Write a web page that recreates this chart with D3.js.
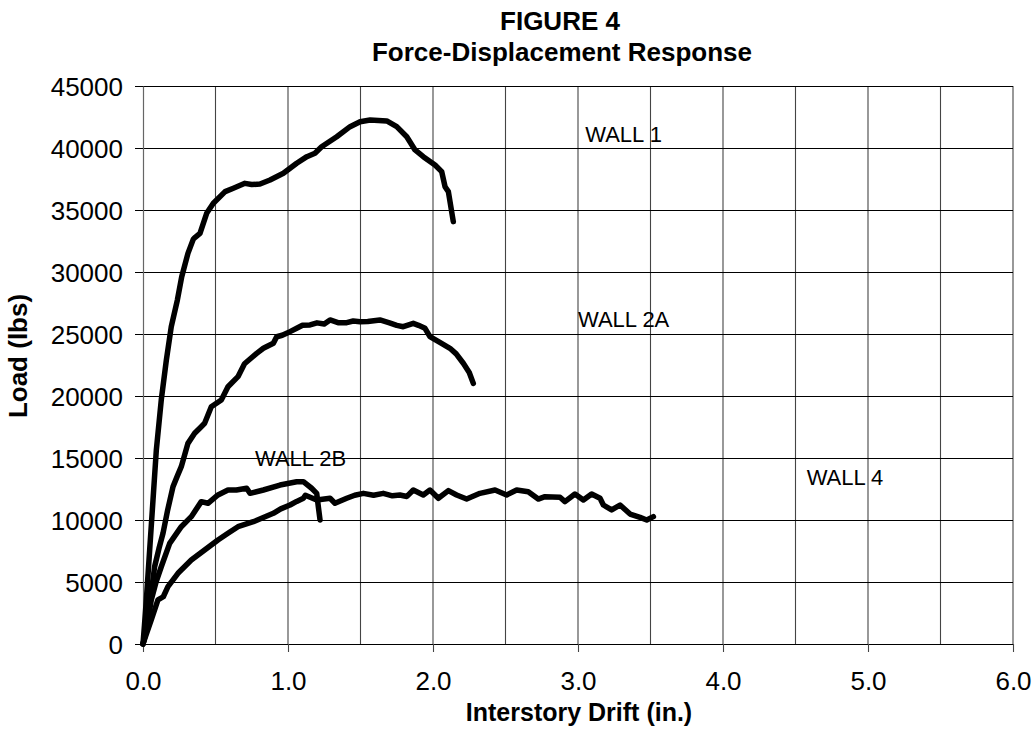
<!DOCTYPE html>
<html>
<head>
<meta charset="utf-8">
<script src="https://cdn.jsdelivr.net/npm/d3@7"></script>
<style>
  html, body { margin: 0; padding: 0; background: #fff; }
  svg { display: block; }
  text { font-family: "Liberation Sans", Arial, sans-serif; fill: #000; }
</style>
</head>
<body>
<svg id="chart" width="1036" height="729"></svg>
<script>
// ---- Data ----
const titleLines = ["FIGURE 4", "Force-Displacement Response"];
const xAxisTitle = "Interstory Drift (in.)";
const yAxisTitle = "Load (lbs)";
const xTickValues = [0, 1, 2, 3, 4, 5, 6];
const xGridValues = [0.5, 1, 1.5, 2, 2.5, 3, 3.5, 4, 4.5, 5, 5.5, 6];
const yTickValues = [0, 5000, 10000, 15000, 20000, 25000, 30000, 35000, 40000, 45000];

const seriesNames = ["WALL 1", "WALL 2A", "WALL 2B", "WALL 4"];

const wall1Drift = [0, 0.01, 0.023, 0.046, 0.069, 0.092, 0.126, 0.161, 0.195, 0.237, 0.267, 0.31, 0.347, 0.36, 0.393, 0.439, 0.485, 0.566, 0.623, 0.703, 0.75, 0.807, 0.876, 0.968, 1.06, 1.13, 1.186, 1.232, 1.336, 1.428, 1.497, 1.566, 1.681, 1.75, 1.819, 1.876, 1.933, 2.014, 2.06, 2.083, 2.106, 2.14];
const wall1Load  = [0, 1500, 3550, 7580, 11610, 15650, 19680, 22900, 25590, 27740, 29620, 31500, 32650, 32800, 33120, 34730, 35540, 36480, 36750, 37150, 37050, 37100, 37420, 37960, 38770, 39300, 39570, 40100, 40910, 41720, 42120, 42260, 42180, 41720, 40910, 39840, 39300, 38630, 38090, 36880, 36480, 34060];

const wall2aDrift = [0, 0.015, 0.034, 0.05, 0.08, 0.11, 0.138, 0.17, 0.207, 0.235, 0.264, 0.31, 0.356, 0.40, 0.425, 0.471, 0.54, 0.586, 0.655, 0.70, 0.784, 0.83, 0.899, 0.922, 0.96, 1.014, 1.06, 1.10, 1.152, 1.2, 1.25, 1.29, 1.35, 1.405, 1.45, 1.497, 1.55, 1.634, 1.70, 1.75, 1.795, 1.864, 1.90, 1.945, 1.979, 2.05, 2.117, 2.16, 2.209, 2.25, 2.278];
const wall2aLoad  = [0, 800, 1940, 3500, 6230, 7700, 8930, 10800, 12690, 13500, 14300, 16180, 16990, 17500, 17800, 19140, 19680, 20750, 21560, 22600, 23440, 23850, 24250, 24780, 24900, 25190, 25460, 25700, 25730, 25900, 25800, 26130, 25900, 25910, 26050, 25990, 26000, 26130, 25900, 25700, 25590, 25860, 25700, 25460, 24780, 24300, 23850, 23400, 22640, 21900, 21020];

const wall2bDrift = [0, 0.02, 0.057, 0.09, 0.126, 0.184, 0.264, 0.333, 0.402, 0.448, 0.517, 0.586, 0.644, 0.715, 0.738, 0.83, 0.945, 1.06, 1.106, 1.163, 1.198, 1.21, 1.221];
const wall2bLoad  = [0, 900, 3550, 5000, 6230, 8120, 9460, 10270, 11480, 11350, 12020, 12420, 12420, 12560, 12150, 12420, 12820, 13090, 13090, 12560, 12150, 11000, 10000];

const wall4Drift = [0, 0.02, 0.057, 0.103, 0.14, 0.172, 0.241, 0.333, 0.425, 0.517, 0.586, 0.655, 0.761, 0.83, 0.899, 0.95, 1.014, 1.06, 1.106, 1.12, 1.198, 1.29, 1.324, 1.405, 1.46, 1.52, 1.59, 1.657, 1.72, 1.772, 1.82, 1.864, 1.933, 1.979, 2.037, 2.106, 2.163, 2.232, 2.324, 2.428, 2.508, 2.577, 2.657, 2.726, 2.772, 2.876, 2.91, 2.979, 3.037, 3.094, 3.152, 3.175, 3.232, 3.29, 3.359, 3.428, 3.474, 3.52];
const wall4Load  = [0, 700, 1940, 3550, 3810, 4620, 5700, 6770, 7580, 8390, 8930, 9460, 9860, 10200, 10540, 10900, 11210, 11500, 11750, 12000, 11610, 11750, 11350, 11750, 12000, 12150, 12000, 12150, 11950, 12020, 11900, 12420, 12020, 12420, 11750, 12370, 12020, 11690, 12150, 12420, 12020, 12420, 12280, 11690, 11880, 11830, 11480, 12100, 11610, 12100, 11750, 11210, 10810, 11210, 10480, 10210, 10000, 10270];

// label anchor values (data coordinates)
const labelDrift = [3.05, 3.0, 0.772, 4.577];
const labelLoad  = [40480, 25540, 14355, 12820];

// ---- Build ----
const series = [
  wall1Drift.map((d, i) => [d, wall1Load[i]]),
  wall2aDrift.map((d, i) => [d, wall2aLoad[i]]),
  wall2bDrift.map((d, i) => [d, wall2bLoad[i]]),
  wall4Drift.map((d, i) => [d, wall4Load[i]])
];

const svg = d3.select("#chart");
const x = d3.scaleLinear().domain([0, 6]).range([143, 1013]);
const y = d3.scaleLinear().domain([0, 45000]).range([644, 86]);

// Vertical gridlines
svg.append("g").selectAll("line").data(xGridValues).join("line")
  .attr("x1", d => x(d)).attr("x2", d => x(d))
  .attr("y1", y(45000)).attr("y2", y(0))
  .attr("stroke", "#444").attr("stroke-width", 1.1);

// Horizontal gridlines
svg.append("g").selectAll("line").data(yTickValues.filter(v => v > 0)).join("line")
  .attr("x1", x(0)).attr("x2", x(6))
  .attr("y1", d => y(d)).attr("y2", d => y(d))
  .attr("stroke", "#000").attr("stroke-width", 1)
  .attr("shape-rendering", "crispEdges");

// Y axis
const yAxis = svg.append("g")
  .attr("transform", `translate(${x(0)},0)`)
  .call(d3.axisLeft(y).tickValues(yTickValues).tickSize(8).tickPadding(12).tickFormat(d => String(d)).tickSizeOuter(0));
yAxis.select(".domain").attr("stroke", "#666").attr("stroke-width", 1.2);
yAxis.selectAll(".tick line").attr("stroke", "#000").attr("shape-rendering", "crispEdges");
yAxis.selectAll(".tick text").attr("font-size", 26).attr("font-family", "Liberation Sans, Arial, sans-serif").attr("dy", "0.35em");

// X axis
const xAxis = svg.append("g")
  .attr("transform", `translate(0,${y(0)})`)
  .call(d3.axisBottom(x).tickValues(xTickValues).tickSize(8).tickPadding(20).tickFormat(d3.format(".1f")).tickSizeOuter(0));
xAxis.select(".domain").attr("stroke", "#000").attr("shape-rendering", "crispEdges");
xAxis.selectAll(".tick line").attr("stroke", "#444").attr("stroke-width", 1.1);
xAxis.selectAll(".tick text").attr("font-size", 26).attr("font-family", "Liberation Sans, Arial, sans-serif");

// Curves
const line = d3.line().x(d => x(d[0])).y(d => y(d[1]));
svg.append("g").selectAll("path").data(series).join("path")
  .attr("d", line)
  .attr("fill", "none")
  .attr("stroke", "#000")
  .attr("stroke-width", 5.5)
  .attr("stroke-linejoin", "round")
  .attr("stroke-linecap", "round");

// Series labels
svg.append("g").selectAll("text").data(seriesNames).join("text")
  .attr("x", (d, i) => x(labelDrift[i]))
  .attr("y", (d, i) => y(labelLoad[i]))
  .attr("font-size", 22)
  .text(d => d);

// Titles
svg.append("text").attr("x", 560).attr("y", 30).attr("text-anchor", "middle")
  .attr("font-size", 26).attr("font-weight", "bold").text(titleLines[0]);
svg.append("text").attr("x", 562).attr("y", 61).attr("text-anchor", "middle")
  .attr("font-size", 26).attr("font-weight", "bold").text(titleLines[1]);

svg.append("text").attr("x", 579).attr("y", 721).attr("text-anchor", "middle")
  .attr("font-size", 25).attr("font-weight", "bold").text(xAxisTitle);

svg.append("text").attr("transform", "translate(27,356) rotate(-90)").attr("text-anchor", "middle")
  .attr("font-size", 26).attr("font-weight", "bold").text(yAxisTitle);
</script>
</body>
</html>
